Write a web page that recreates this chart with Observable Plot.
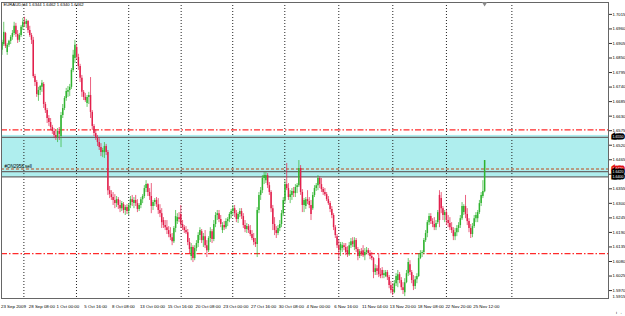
<!DOCTYPE html>
<html><head><meta charset="utf-8">
<script src="https://cdn.jsdelivr.net/npm/d3@7"></script>
<script src="https://cdn.jsdelivr.net/npm/@observablehq/plot@0.6"></script>
<style>
html,body{margin:0;padding:0;background:#fff;}
#chart svg{display:block;}
</style></head><body><div id="chart"></div>
<script>
const title = "EURAUD,H4 1.6344 1.6462 1.6340 1.6462";

const open = [1.6879,1.6901,1.6943,1.6871,1.6898,1.6913,1.6928,1.6943,1.6970,1.6939,
1.6917,1.6935,1.6966,1.6985,1.6977,1.6988,1.6954,1.6935,1.6917,1.6780,
1.6757,1.6708,1.6727,1.6739,1.6750,1.6674,1.6651,1.6621,1.6606,1.6587,
1.6572,1.6557,1.6549,1.6572,1.6553,1.6632,1.6659,1.6697,1.6720,1.6727,
1.6739,1.6803,1.6848,1.6890,1.6852,1.6818,1.6773,1.6720,1.6701,1.6678,
1.6701,1.6708,1.6644,1.6591,1.6564,1.6549,1.6530,1.6511,1.6492,1.6492,
1.6515,1.6492,1.6348,1.6333,1.6322,1.6311,1.6299,1.6314,1.6292,1.6280,
1.6295,1.6273,1.6284,1.6269,1.6292,1.6314,1.6299,1.6311,1.6299,1.6277,
1.6292,1.6314,1.6326,1.6356,1.6371,1.6341,1.6326,1.6288,1.6303,1.6311,
1.6295,1.6273,1.6261,1.6235,1.6216,1.6208,1.6197,1.6182,1.6170,1.6155,
1.6205,1.6231,1.6246,1.6258,1.6220,1.6208,1.6197,1.6189,1.6152,1.6099,
1.6133,1.6091,1.6129,1.6148,1.6178,1.6193,1.6159,1.6174,1.6140,1.6121,
1.6167,1.6193,1.6163,1.6220,1.6254,1.6261,1.6239,1.6197,1.6216,1.6208,
1.6231,1.6239,1.6258,1.6269,1.6280,1.6261,1.6239,1.6258,1.6269,1.6250,
1.6216,1.6201,1.6212,1.6197,1.6182,1.6167,1.6152,1.6144,1.6273,1.6330,
1.6348,1.6394,1.6386,1.6405,1.6367,1.6341,1.6280,1.6220,1.6197,1.6186,
1.6205,1.6220,1.6261,1.6311,1.6371,1.6356,1.6322,1.6330,1.6345,1.6337,
1.6360,1.6367,1.6432,1.6341,1.6292,1.6288,1.6314,1.6307,1.6292,1.6280,
1.6330,1.6356,1.6367,1.6394,1.6371,1.6352,1.6341,1.6333,1.6314,1.6299,
1.6277,1.6254,1.6208,1.6174,1.6140,1.6121,1.6129,1.6140,1.6133,1.6121,
1.6106,1.6140,1.6155,1.6133,1.6159,1.6125,1.6099,1.6117,1.6121,1.6102,
1.6114,1.6121,1.6110,1.6099,1.6091,1.6038,1.6053,1.6091,1.6030,1.6046,
1.6027,1.6023,1.6038,1.6019,1.5989,1.5974,1.5962,1.5996,1.6008,1.6030,
1.6008,1.5981,1.5962,1.6000,1.6034,1.6068,1.6038,1.6008,1.5985,1.6011,
1.6023,1.6091,1.6110,1.6114,1.6159,1.6186,1.6227,1.6250,1.6231,1.6220,
1.6208,1.6227,1.6330,1.6318,1.6280,1.6254,1.6265,1.6235,1.6224,1.6208,
1.6197,1.6174,1.6189,1.6205,1.6216,1.6242,1.6265,1.6288,1.6258,1.6231,
1.6205,1.6182,1.6212,1.6242,1.6242,1.6265,1.6299,1.6326,1.6344];

const high = [1.6917,1.6985,1.6947,1.6905,1.6917,1.6935,1.6954,1.6985,1.6981,1.6954,
1.6943,1.6973,1.7000,1.7004,1.6996,1.6992,1.6970,1.6943,1.6928,1.6788,
1.6765,1.6739,1.6746,1.6765,1.6757,1.6682,1.6659,1.6632,1.6621,1.6595,
1.6583,1.6576,1.6583,1.6587,1.6644,1.6674,1.6704,1.6735,1.6742,1.6750,
1.6810,1.6879,1.6917,1.6901,1.6864,1.6826,1.6784,1.6727,1.6716,1.6708,
1.6720,1.6776,1.6651,1.6598,1.6579,1.6557,1.6545,1.6526,1.6508,1.6530,
1.6523,1.6500,1.6364,1.6348,1.6341,1.6333,1.6326,1.6322,1.6311,1.6307,
1.6303,1.6292,1.6295,1.6299,1.6326,1.6330,1.6322,1.6330,1.6314,1.6299,
1.6322,1.6333,1.6367,1.6386,1.6375,1.6356,1.6375,1.6311,1.6318,1.6322,
1.6318,1.6295,1.6280,1.6246,1.6235,1.6235,1.6212,1.6208,1.6186,1.6212,
1.6273,1.6261,1.6265,1.6292,1.6235,1.6216,1.6212,1.6201,1.6167,1.6148,
1.6140,1.6140,1.6159,1.6189,1.6208,1.6201,1.6186,1.6197,1.6159,1.6174,
1.6208,1.6201,1.6235,1.6265,1.6273,1.6273,1.6254,1.6227,1.6231,1.6242,
1.6246,1.6265,1.6277,1.6292,1.6292,1.6273,1.6265,1.6280,1.6280,1.6261,
1.6235,1.6224,1.6220,1.6216,1.6197,1.6186,1.6167,1.6284,1.6341,1.6360,
1.6405,1.6417,1.6417,1.6413,1.6379,1.6348,1.6292,1.6246,1.6212,1.6216,
1.6235,1.6273,1.6322,1.6386,1.6451,1.6375,1.6348,1.6356,1.6360,1.6371,
1.6375,1.6462,1.6443,1.6352,1.6318,1.6322,1.6348,1.6322,1.6311,1.6341,
1.6367,1.6375,1.6405,1.6401,1.6394,1.6360,1.6356,1.6341,1.6326,1.6307,
1.6288,1.6261,1.6216,1.6182,1.6159,1.6152,1.6152,1.6148,1.6148,1.6136,
1.6152,1.6167,1.6170,1.6170,1.6167,1.6133,1.6125,1.6129,1.6140,1.6129,
1.6133,1.6129,1.6121,1.6114,1.6095,1.6068,1.6064,1.6110,1.6053,1.6057,
1.6046,1.6046,1.6046,1.6027,1.6004,1.5996,1.6008,1.6034,1.6046,1.6038,
1.6019,1.6000,1.6015,1.6046,1.6091,1.6083,1.6046,1.6027,1.6023,1.6034,
1.6110,1.6121,1.6121,1.6167,1.6197,1.6235,1.6261,1.6261,1.6242,1.6246,
1.6235,1.6273,1.6348,1.6341,1.6288,1.6273,1.6273,1.6254,1.6246,1.6227,
1.6208,1.6205,1.6216,1.6227,1.6254,1.6303,1.6295,1.6330,1.6280,1.6242,
1.6220,1.6224,1.6254,1.6265,1.6273,1.6311,1.6341,1.6386,1.6462];

const low = [1.6860,1.6894,1.6886,1.6860,1.6890,1.6901,1.6917,1.6935,1.6928,1.6905,
1.6909,1.6928,1.6954,1.6966,1.6962,1.6943,1.6928,1.6901,1.6773,1.6742,
1.6701,1.6686,1.6708,1.6720,1.6659,1.6640,1.6602,1.6591,1.6576,1.6561,
1.6545,1.6538,1.6530,1.6538,1.6511,1.6621,1.6651,1.6686,1.6701,1.6704,
1.6731,1.6795,1.6829,1.6841,1.6803,1.6757,1.6701,1.6689,1.6682,1.6663,
1.6674,1.6621,1.6576,1.6553,1.6538,1.6515,1.6500,1.6477,1.6473,1.6470,
1.6481,1.6330,1.6318,1.6311,1.6292,1.6280,1.6284,1.6277,1.6265,1.6269,
1.6261,1.6254,1.6258,1.6254,1.6280,1.6288,1.6280,1.6288,1.6265,1.6269,
1.6280,1.6299,1.6318,1.6341,1.6326,1.6311,1.6261,1.6273,1.6288,1.6284,
1.6258,1.6246,1.6205,1.6205,1.6197,1.6182,1.6170,1.6159,1.6140,1.6148,
1.6189,1.6220,1.6227,1.6205,1.6197,1.6186,1.6182,1.6140,1.6110,1.6083,
1.6076,1.6083,1.6117,1.6133,1.6159,1.6148,1.6133,1.6129,1.6095,1.6114,
1.6152,1.6148,1.6155,1.6208,1.6235,1.6227,1.6208,1.6186,1.6197,1.6201,
1.6212,1.6227,1.6242,1.6254,1.6246,1.6227,1.6224,1.6246,1.6239,1.6205,
1.6189,1.6186,1.6186,1.6174,1.6159,1.6140,1.6133,1.6095,1.6261,1.6311,
1.6337,1.6371,1.6375,1.6356,1.6330,1.6265,1.6197,1.6178,1.6167,1.6178,
1.6193,1.6208,1.6250,1.6299,1.6348,1.6311,1.6299,1.6311,1.6322,1.6322,
1.6337,1.6360,1.6330,1.6265,1.6265,1.6277,1.6295,1.6280,1.6235,1.6273,
1.6322,1.6345,1.6348,1.6356,1.6341,1.6330,1.6326,1.6307,1.6292,1.6265,
1.6242,1.6197,1.6167,1.6129,1.6083,1.6099,1.6114,1.6121,1.6102,1.6095,
1.6099,1.6129,1.6133,1.6121,1.6114,1.6083,1.6091,1.6099,1.6095,1.6083,
1.6106,1.6102,1.6087,1.6083,1.6015,1.6027,1.6027,1.6019,1.6015,1.6015,
1.6015,1.6019,1.6008,1.5977,1.5958,1.5951,1.5958,1.5985,1.5981,1.5996,
1.5970,1.5955,1.5947,1.5996,1.6023,1.6027,1.5996,1.5970,1.5974,1.5996,
1.6019,1.6087,1.6095,1.6106,1.6152,1.6170,1.6216,1.6220,1.6208,1.6197,
1.6197,1.6220,1.6208,1.6261,1.6235,1.6227,1.6216,1.6208,1.6197,1.6186,
1.6159,1.6159,1.6174,1.6189,1.6205,1.6235,1.6254,1.6242,1.6216,1.6189,
1.6167,1.6170,1.6205,1.6227,1.6227,1.6258,1.6288,1.6318,1.6340];

const close = [1.6909,1.6947,1.6894,1.6898,1.6913,1.6928,1.6943,1.6970,1.6939,1.6917,
1.6935,1.6966,1.6985,1.6977,1.6988,1.6954,1.6935,1.6917,1.6780,1.6757,
1.6712,1.6727,1.6742,1.6754,1.6674,1.6651,1.6621,1.6606,1.6587,1.6572,
1.6557,1.6549,1.6572,1.6561,1.6632,1.6659,1.6697,1.6723,1.6727,1.6739,
1.6803,1.6860,1.6898,1.6852,1.6818,1.6773,1.6720,1.6701,1.6689,1.6701,
1.6708,1.6644,1.6591,1.6564,1.6549,1.6530,1.6511,1.6492,1.6500,1.6515,
1.6492,1.6348,1.6333,1.6322,1.6311,1.6299,1.6314,1.6292,1.6280,1.6299,
1.6273,1.6284,1.6269,1.6292,1.6314,1.6303,1.6311,1.6299,1.6277,1.6292,
1.6314,1.6326,1.6356,1.6371,1.6341,1.6326,1.6288,1.6303,1.6311,1.6295,
1.6273,1.6261,1.6227,1.6216,1.6208,1.6197,1.6182,1.6170,1.6155,1.6205,
1.6250,1.6246,1.6239,1.6220,1.6208,1.6197,1.6189,1.6152,1.6125,1.6133,
1.6091,1.6129,1.6148,1.6178,1.6197,1.6159,1.6174,1.6140,1.6121,1.6167,
1.6193,1.6163,1.6220,1.6254,1.6261,1.6239,1.6220,1.6216,1.6208,1.6231,
1.6239,1.6258,1.6269,1.6280,1.6261,1.6239,1.6258,1.6269,1.6250,1.6216,
1.6201,1.6212,1.6197,1.6182,1.6167,1.6152,1.6144,1.6273,1.6330,1.6348,
1.6394,1.6405,1.6405,1.6367,1.6341,1.6280,1.6220,1.6197,1.6186,1.6205,
1.6220,1.6261,1.6311,1.6371,1.6356,1.6322,1.6333,1.6345,1.6337,1.6360,
1.6367,1.6432,1.6341,1.6292,1.6311,1.6314,1.6307,1.6292,1.6258,1.6330,
1.6356,1.6367,1.6394,1.6371,1.6352,1.6341,1.6333,1.6314,1.6299,1.6277,
1.6254,1.6208,1.6178,1.6140,1.6121,1.6144,1.6140,1.6133,1.6114,1.6106,
1.6140,1.6155,1.6144,1.6159,1.6125,1.6099,1.6117,1.6110,1.6102,1.6114,
1.6121,1.6110,1.6099,1.6091,1.6038,1.6053,1.6042,1.6030,1.6023,1.6027,
1.6034,1.6038,1.6019,1.5989,1.5970,1.5962,1.5996,1.6023,1.6030,1.6008,
1.5981,1.5970,1.6000,1.6034,1.6076,1.6038,1.6008,1.5985,1.6011,1.6023,
1.6091,1.6110,1.6114,1.6159,1.6186,1.6227,1.6250,1.6231,1.6220,1.6208,
1.6224,1.6265,1.6235,1.6280,1.6254,1.6265,1.6235,1.6224,1.6208,1.6197,
1.6174,1.6189,1.6205,1.6216,1.6242,1.6288,1.6288,1.6258,1.6231,1.6205,
1.6182,1.6212,1.6242,1.6254,1.6265,1.6299,1.6330,1.6345,1.6462];

const timeLabels = ["23 Sep 2009","28 Sep 08:00","1 Oct 00:00","5 Oct 16:00","8 Oct 08:00","13 Oct 00:00","15 Oct 16:00","20 Oct 08:00","23 Oct 00:00","27 Oct 16:00","30 Oct 08:00","4 Nov 00:00","6 Nov 16:00","11 Nov 04:00","13 Nov 20:00","18 Nov 08:00","22 Nov 20:00","25 Nov 12:00"];
const timeLabelBars = [0,16,32,48,64,80,96,112,128,144,160,176,192,208,224,240,256,272];
const priceTicks = [1.7015,1.6960,1.6905,1.6850,1.6795,1.6740,1.6685,1.6630,1.6575,1.6520,1.6465,1.6410,1.6355,1.6300,1.6245,1.6190,1.6135,1.6080,1.6025,1.5970];
const bottomPriceLabel = "1.5915";
const gridBars = [12.6,42.9,73.0,103.2,132.9,162.9,194.0,225.1,256.0,293.7];
const dashLevels = [1.6578,1.6110];
const zoneLow = 1.6398, zoneHigh = 1.6557;
const grayLevels = [1.6550,1.6420,1.6400];
const sellLevel = 1.6430;
const sellLabel = "#ON2958 sell";
const boxLevels = [1.6550,1.6430,1.6420,1.6400];
const boxColors = ["#000","#e01010","#000","#000"];
const lastBar = 278;

const bars = open.map((o,i)=>({i, o, h:high[i], l:low[i], c:close[i], up: close[i] >= o}));
const bull = "#2fb32f", bear = "#e2204c";
const font = "Liberation Sans, Arial, sans-serif";

const chart = Plot.plot({
  width: 625, height: 316,
  marginLeft: 1, marginRight: 17, marginTop: 2, marginBottom: 18,
  style: {fontFamily: font, background: "#fff", overflow: "visible"},
  x: {domain: [-0.29, 349.36], axis: null},
  y: {domain: [1.5940, 1.7060], axis: null},
  marks: [
    Plot.rect([0], {y1: () => zoneLow, y2: () => zoneHigh, fill: "#afeeee"}),
    Plot.ruleX(gridBars, {stroke: "#222", strokeDasharray: "1,2", strokeWidth: 1}),
    Plot.ruleY(dashLevels, {stroke: "#ff2a2a", strokeDasharray: "6,2,1.5,2", strokeWidth: 1.2}),
    Plot.ruleY(grayLevels, {stroke: "#6a6a6a", strokeWidth: 1.2}),
    Plot.ruleY([sellLevel], {stroke: "#c04818", strokeDasharray: "3,2", strokeWidth: 1.2}),
    Plot.ruleX(bars, {x: "i", y1: "l", y2: "h", stroke: d => d.up ? bull : bear, strokeWidth: 1, strokeOpacity: 0.7}),
    Plot.ruleX(bars, {x: "i", y1: "o", y2: "c", stroke: d => d.up ? bull : bear, strokeWidth: 1.5}),
    Plot.text([sellLabel], {y: () => sellLevel, frameAnchor: "left", dx: 3, dy: -2, textAnchor: "start", fontSize: 4.5, fill: "#000"}),
    Plot.axisY(priceTicks, {anchor: "right", tickSize: 3, tickPadding: 1, fontSize: 4.2, tickFormat: d => d.toFixed(4), stroke: "#333"}),
    Plot.axisX(timeLabelBars, {anchor: "bottom", tickSize: 0, tickPadding: 6, fontSize: 4.4, textAnchor: "start", dx: -1,
      tickFormat: d => timeLabels[timeLabelBars.indexOf(d)]}),
    Plot.frame({stroke: "#666"}),
    Plot.text(boxLevels, {y: d => d, frameAnchor: "right", dx: 4, textAnchor: "start", text: d => d.toFixed(4),
      fill: "#fff", stroke: (d, i) => boxColors[i], strokeWidth: 3, strokeLinejoin: "miter", fontSize: 3.6}),
    Plot.text([bottomPriceLabel], {frameAnchor: "bottom-right", dx: 4, dy: -1, textAnchor: "start", lineAnchor: "bottom", fontSize: 4.2, fill: "#000"}),
    Plot.dot([lastBar], {x: d => d, frameAnchor: "top", symbol: "triangle", rotate: 180, r: 2, fill: "#888", dy: 1}),
    Plot.text([title], {frameAnchor: "top-left", dx: 2, dy: 1, textAnchor: "start", lineAnchor: "top", fontSize: 4.2, fill: "#000"})
  ]
});
document.getElementById("chart").appendChild(chart);
</script>
</body></html>
